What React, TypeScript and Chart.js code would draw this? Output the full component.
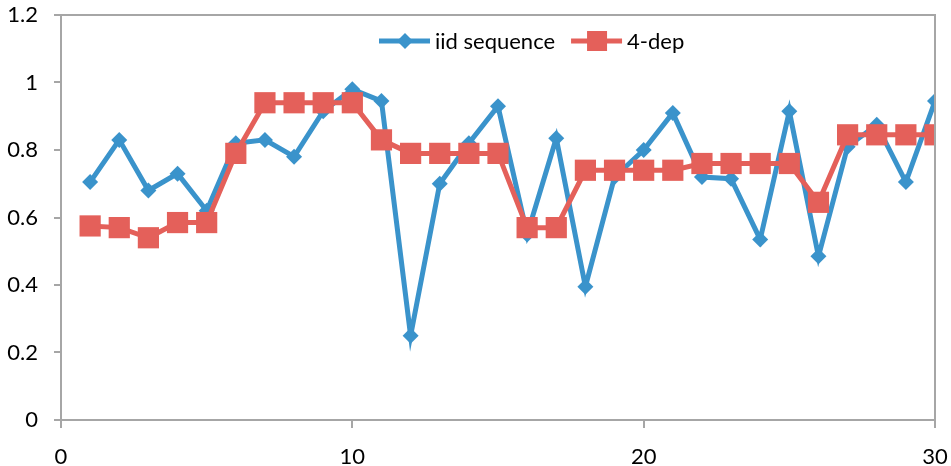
import React, { useEffect, useRef } from "react";
import { Chart, registerables } from "chart.js";

Chart.register(...registerables);

const xValues = [1,2,3,4,5,6,7,8,9,10,11,12,13,14,15,16,17,18,19,20,21,22,23,24,25,26,27,28,29,30];
const iidSequence = [0.705,0.83,0.68,0.73,0.62,0.82,0.83,0.78,0.915,0.98,0.945,0.25,0.70,0.82,0.93,0.55,0.835,0.395,0.72,0.80,0.91,0.72,0.715,0.535,0.915,0.485,0.81,0.875,0.705,0.945];
const fourDep = [0.575,0.57,0.54,0.585,0.585,0.79,0.94,0.94,0.94,0.94,0.83,0.79,0.79,0.79,0.79,0.57,0.57,0.74,0.74,0.74,0.74,0.76,0.76,0.76,0.76,0.645,0.845,0.845,0.845,0.845];
const seriesLabels = ["iid sequence", "4-dep"];
const xTicks = [0, 10, 20, 30];
const yTicks = [0, 0.2, 0.4, 0.6, 0.8, 1, 1.2];

const BLUE = "#3A93CB";
const RED = "#E4605A";
const AXIS = "#A6A6A6";
const FONT = "Lato, 'Open Sans', sans-serif";

const clearPadding = (axis: any) => {
  axis.paddingTop = 0;
  axis.paddingBottom = 0;
  axis.paddingLeft = 0;
  axis.paddingRight = 0;
};

const framePlugin = {
  id: "frame",
  afterDraw(chart: any) {
    const { ctx, chartArea } = chart;
    ctx.save();
    ctx.strokeStyle = AXIS;
    ctx.lineWidth = 2;
    ctx.beginPath();
    ctx.moveTo(chartArea.left, chartArea.top);
    ctx.lineTo(chartArea.right, chartArea.top);
    ctx.lineTo(chartArea.right, chartArea.bottom);
    ctx.stroke();
    ctx.restore();

    // legend inside plot area
    const items = chart.data.datasets;
    const y = 41;
    let x = 379;
    ctx.save();
    ctx.font = `22px ${FONT}`;
    ctx.textBaseline = "middle";
    items.forEach((ds: any) => {
      ctx.strokeStyle = ds.borderColor;
      ctx.lineWidth = 5;
      ctx.beginPath();
      ctx.moveTo(x, y);
      ctx.lineTo(x + 51, y);
      ctx.stroke();
      ctx.fillStyle = ds.borderColor;
      const cx = x + 26;
      if (ds.pointStyle === "rect") {
        ctx.fillRect(cx - 10, y - 10, 20, 20);
      } else {
        ctx.beginPath();
        ctx.moveTo(cx, y - 8);
        ctx.lineTo(cx + 8, y);
        ctx.lineTo(cx, y + 8);
        ctx.lineTo(cx - 8, y);
        ctx.closePath();
        ctx.fill();
      }
      ctx.fillStyle = "#000";
      ctx.fillText(ds.label, x + 56, y + 1);
      x += 56 + ctx.measureText(ds.label).width + 16;
    });
    ctx.restore();
  },
};

export default function App() {
  const ref = useRef<HTMLCanvasElement>(null);

  useEffect(() => {
    document.body.style.margin = "0";
    const chart = new Chart(ref.current!, {
      type: "line",
      data: {
        datasets: [
          {
            label: seriesLabels[0],
            data: xValues.map((x, i) => ({ x, y: iidSequence[i] })),
            borderColor: BLUE,
            backgroundColor: BLUE,
            borderWidth: 5,
            pointStyle: "rectRot",
            pointRadius: 8,
            pointBorderWidth: 0,
            tension: 0,
            order: 2,
          },
          {
            label: seriesLabels[1],
            data: xValues.map((x, i) => ({ x, y: fourDep[i] })),
            borderColor: RED,
            backgroundColor: RED,
            borderWidth: 5,
            pointStyle: "rect",
            pointRadius: 15,
            pointBorderWidth: 0,
            tension: 0,
            order: 1,
          },
        ],
      },
      options: {
        animation: false,
        responsive: false,
        layout: { padding: { top: 15, right: 16, left: 0, bottom: 0 } },
        plugins: { legend: { display: false }, tooltip: { enabled: false } },
        scales: {
          x: {
            type: "linear",
            min: 0,
            max: 30,
            afterBuildTicks: (axis: any) => {
              axis.ticks = xTicks.map((v) => ({ value: v }));
            },
            afterFit: (axis: any) => {
              axis.height = 46;
              clearPadding(axis);
            },
            grid: { drawOnChartArea: false, color: AXIS, tickLength: 8, lineWidth: 2 },
            border: { color: AXIS, width: 2 },
            ticks: { color: "#000", font: { size: 22, family: FONT }, padding: 16, maxRotation: 0 },
          },
          y: {
            min: 0,
            max: 1.2,
            afterBuildTicks: (axis: any) => {
              axis.ticks = yTicks.map((v) => ({ value: v }));
            },
            afterFit: (axis: any) => {
              axis.width = 61;
              clearPadding(axis);
            },
            grid: { drawOnChartArea: false, color: AXIS, tickLength: 7, lineWidth: 2 },
            border: { color: AXIS, width: 2 },
            ticks: {
              color: "#000",
              font: { size: 22, family: FONT },
              padding: 16,
              callback: (v: any) => String(Math.round(Number(v) * 10) / 10),
            },
          },
        },
      },
      plugins: [framePlugin],
    });
    return () => chart.destroy();
  }, []);

  return (
    <div style={{ width: 951, height: 466 }}>
      <canvas ref={ref} width={951} height={466} style={{ display: "block" }} />
    </div>
  );
}
